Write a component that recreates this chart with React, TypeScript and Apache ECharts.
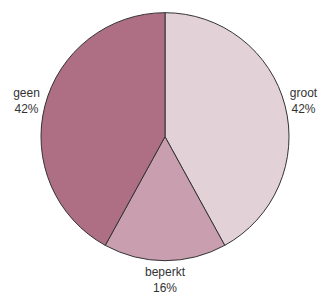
import React, { useEffect, useRef } from "react";
import * as echarts from "echarts";

const categories = ["groot", "beperkt", "geen"];
const values = [42, 16, 42];
const colors = ["#e3d1d8", "#c99fb0", "#ae6f85"];

export default function App() {
  const ref = useRef<HTMLDivElement>(null);
  useEffect(() => {
    if (!ref.current) return;
    const chart = echarts.init(ref.current, null, { renderer: "svg" });
    const data = categories.map((name, i) => ({
      name,
      value: values[i],
      itemStyle: { color: colors[i] },
    }));
    chart.setOption({
      animation: false,
      series: [
        {
          type: "pie",
          center: [165, 136.7],
          radius: 124,
          startAngle: 90,
          clockwise: true,
          silent: true,
          itemStyle: { borderColor: "#333", borderWidth: 1 },
          label: { show: false },
          labelLine: { show: false },
          data,
        },
        {
          type: "pie",
          center: [165, 136.7],
          radius: [136, 144],
          startAngle: 90,
          clockwise: true,
          silent: true,
          itemStyle: { color: "transparent", borderWidth: 0 },
          label: {
            show: true,
            position: "inside",
            formatter: "{b}\n{d}%",
            color: "#333",
            fontFamily: "Liberation Sans, Arial, sans-serif",
            fontSize: 12,
            lineHeight: 16,
            align: "center",
          },
          labelLine: { show: false },
          data: categories.map((name, i) => ({ name, value: values[i] })),
        },
      ],
    });
    return () => chart.dispose();
  }, []);
  return (
    <div
      ref={ref}
      style={{ position: "fixed", left: 0, top: 0, width: 320, height: 293, background: "#fff" }}
    />
  );
}
